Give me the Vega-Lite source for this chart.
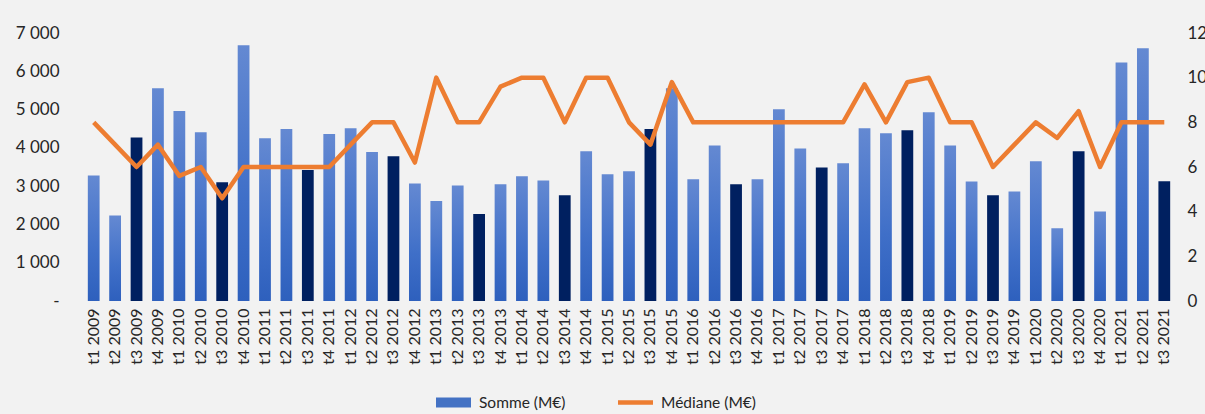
{
  "$schema": "https://vega.github.io/schema/vega-lite/v6.json",
  "autosize": {"type": "none"},
  "width": 1092,
  "height": 268,
  "padding": {"left": 83, "top": 33, "right": 30, "bottom": 113},
  "background": "#f2f2f2",
  "config": {
    "view": {"stroke": null},
    "font": "Lato",
    "axis": {"labelFont": "Lato", "labelColor": "#262626", "grid": false, "ticks": false, "domain": false, "title": null}
  },
  "data": {
    "values": [
      {"q": "t1 2009", "somme": 3280, "mediane": 8.0},
      {"q": "t2 2009", "somme": 2230, "mediane": 7.0},
      {"q": "t3 2009", "somme": 4270, "mediane": 6.0},
      {"q": "t4 2009", "somme": 5560, "mediane": 7.0},
      {"q": "t1 2010", "somme": 4960, "mediane": 5.6},
      {"q": "t2 2010", "somme": 4410, "mediane": 6.0},
      {"q": "t3 2010", "somme": 3100, "mediane": 4.6},
      {"q": "t4 2010", "somme": 6680, "mediane": 6.0},
      {"q": "t1 2011", "somme": 4250, "mediane": 6.0},
      {"q": "t2 2011", "somme": 4490, "mediane": 6.0},
      {"q": "t3 2011", "somme": 3420, "mediane": 6.0},
      {"q": "t4 2011", "somme": 4360, "mediane": 6.0},
      {"q": "t1 2012", "somme": 4510, "mediane": 7.0},
      {"q": "t2 2012", "somme": 3890, "mediane": 8.0},
      {"q": "t3 2012", "somme": 3780, "mediane": 8.0},
      {"q": "t4 2012", "somme": 3070, "mediane": 6.2},
      {"q": "t1 2013", "somme": 2610, "mediane": 10.0},
      {"q": "t2 2013", "somme": 3020, "mediane": 8.0},
      {"q": "t3 2013", "somme": 2270, "mediane": 8.0},
      {"q": "t4 2013", "somme": 3050, "mediane": 9.6},
      {"q": "t1 2014", "somme": 3260, "mediane": 10.0},
      {"q": "t2 2014", "somme": 3150, "mediane": 10.0},
      {"q": "t3 2014", "somme": 2760, "mediane": 8.0},
      {"q": "t4 2014", "somme": 3910, "mediane": 10.0},
      {"q": "t1 2015", "somme": 3310, "mediane": 10.0},
      {"q": "t2 2015", "somme": 3390, "mediane": 8.0},
      {"q": "t3 2015", "somme": 4490, "mediane": 7.0},
      {"q": "t4 2015", "somme": 5560, "mediane": 9.8},
      {"q": "t1 2016", "somme": 3180, "mediane": 8.0},
      {"q": "t2 2016", "somme": 4060, "mediane": 8.0},
      {"q": "t3 2016", "somme": 3050, "mediane": 8.0},
      {"q": "t4 2016", "somme": 3180, "mediane": 8.0},
      {"q": "t1 2017", "somme": 5010, "mediane": 8.0},
      {"q": "t2 2017", "somme": 3980, "mediane": 8.0},
      {"q": "t3 2017", "somme": 3490, "mediane": 8.0},
      {"q": "t4 2017", "somme": 3600, "mediane": 8.0},
      {"q": "t1 2018", "somme": 4510, "mediane": 9.7},
      {"q": "t2 2018", "somme": 4380, "mediane": 8.0},
      {"q": "t3 2018", "somme": 4460, "mediane": 9.8},
      {"q": "t4 2018", "somme": 4930, "mediane": 10.0},
      {"q": "t1 2019", "somme": 4060, "mediane": 8.0},
      {"q": "t2 2019", "somme": 3120, "mediane": 8.0},
      {"q": "t3 2019", "somme": 2760, "mediane": 6.0},
      {"q": "t4 2019", "somme": 2860, "mediane": 7.0},
      {"q": "t1 2020", "somme": 3650, "mediane": 8.0},
      {"q": "t2 2020", "somme": 1900, "mediane": 7.3},
      {"q": "t3 2020", "somme": 3910, "mediane": 8.5},
      {"q": "t4 2020", "somme": 2340, "mediane": 6.0},
      {"q": "t1 2021", "somme": 6230, "mediane": 8.0},
      {"q": "t2 2021", "somme": 6600, "mediane": 8.0},
      {"q": "t3 2021", "somme": 3130, "mediane": 8.0}
    ]
  },
  "encoding": {
    "x": {
      "field": "q",
      "type": "nominal",
      "sort": null,
      "scale": {"paddingInner": 0.45, "paddingOuter": 0.225},
      "axis": {"labelAngle": -90, "labelFontSize": 16, "labelPadding": 7}
    }
  },
  "layer": [
    {
      "mark": {"type": "bar"},
      "encoding": {
        "y": {
          "field": "somme",
          "type": "quantitative",
          "scale": {"domain": [0, 7000], "nice": false},
          "axis": {
            "orient": "left",
            "values": [0, 1000, 2000, 3000, 4000, 5000, 6000, 7000],
            "labelExpr": "datum.value == 0 ? '-\u00a0\u00a0' : replace(datum.label, ',', ' ')",
            "labelFontSize": 17,
            "labelPadding": 24
          }
        },
        "color": {
          "condition": {"test": "indexof(datum.q, 't3') == 0", "value": "#002060"},
          "value": {
            "gradient": "linear",
            "x1": 0, "y1": 0, "x2": 0, "y2": 1,
            "stops": [
              {"offset": 0, "color": "#6489d2"},
              {"offset": 0.6, "color": "#3f6fc8"},
              {"offset": 1, "color": "#2e60bd"}
            ]
          }
        }
      }
    },
    {
      "mark": {"type": "line", "strokeWidth": 4.5, "strokeJoin": "round"},
      "encoding": {
        "y": {
          "field": "mediane",
          "type": "quantitative",
          "scale": {"domain": [0, 12], "nice": false},
          "axis": {
            "orient": "right",
            "values": [0, 2, 4, 6, 8, 10, 12],
            "labelFontSize": 17,
            "labelPadding": 12
          }
        },
        "color": {
          "datum": "Médiane (M€)",
          "scale": {"domain": ["Somme (M€)", "Médiane (M€)"], "range": ["#4472c4", "#ed7d31"]},
          "legend": {
            "title": null,
            "orient": "none",
            "direction": "horizontal",
            "legendX": 353,
            "legendY": 352,
            "labelFontSize": 15.5,
            "labelFont": "Lato",
            "labelColor": "#262626",
            "labelOffset": 8,
            "columnPadding": 52,
            "symbolSize": 1225,
            "symbolOpacity": 1,
            "encode": {
              "symbols": {
                "update": {
                  "shape": {"signal": "datum.value === 'Somme (M€)' ? 'M-1,-0.28H1V0.28H-1Z' : 'M-1,-0.13H1V0.13H-1Z'"},
                  "fill": {"signal": "datum.value === 'Somme (M€)' ? '#4472c4' : '#ed7d31'"},
                  "strokeWidth": {"value": 0},
                  "opacity": {"value": 1}
                }
              }
            }
          }
        }
      }
    }
  ],
  "resolve": {"scale": {"y": "independent"}}
}
